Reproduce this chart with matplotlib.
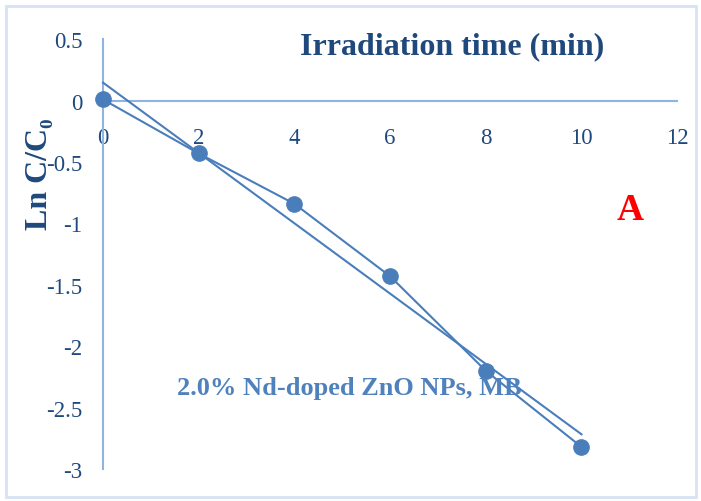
import numpy as np
import matplotlib.pyplot as plt
from matplotlib.patches import Rectangle

# irradiation time (min) and ln(C/C0)
time_min = [0, 2, 4, 6, 8, 10]
ln_ratio = [0.01, -0.43, -0.84, -1.43, -2.20, -2.82]

x_ticks = [0, 2, 4, 6, 8, 10, 12]
y_ticks = [-3, -2.5, -2, -1.5, -1, -0.5, 0, 0.5]
y_tick_labels = ['-3', '-2.5', '-2', '-1.5', '-1', '-0.5', '0', '0.5']

plt.rcParams['font.family'] = 'Liberation Serif'

blue = '#4A7EBB'
axis_blue = '#8EB4E3'
dark_blue = '#1F497D'

fig = plt.figure(figsize=(7.01, 5.02), dpi=100)
ax = fig.add_axes([0.147, 0.0637, 0.819, 0.856])

# chart border
fig.patches.append(Rectangle((0.008, 0.008), 0.985, 0.978, transform=fig.transFigure,
                             fill=False, edgecolor='#D6E3F5', linewidth=2))

# data with straight line segments
ax.plot(time_min, ln_ratio, color=blue, linewidth=1.5, marker='o', markersize=11,
        markerfacecolor=blue, markeredgecolor=blue, clip_on=False, zorder=3)

# linear trendline
coef = np.polyfit(time_min, ln_ratio, 1)
xs = np.array([min(time_min), max(time_min)])
ax.plot(xs, np.polyval(coef, xs), color=blue, linewidth=1.5, clip_on=False, zorder=3)

ax.set_xlim(0, 12)
ax.set_ylim(-3, 0.5)
ax.set_xticks(x_ticks)
ax.set_yticks(y_ticks)
ax.set_yticklabels(y_tick_labels)

for s in ['top', 'right']:
    ax.spines[s].set_visible(False)
ax.spines['bottom'].set_position(('data', 0))
ax.spines['left'].set_position(('data', 0))
for s in ['bottom', 'left']:
    ax.spines[s].set_color(axis_blue)
    ax.spines[s].set_linewidth(1.5)

ax.tick_params(axis='x', length=0, pad=19, labelsize=16.5, labelcolor=dark_blue)
ax.tick_params(axis='y', length=0, pad=15, labelsize=16.5, labelcolor=dark_blue)

fig.text(0.645, 0.906, 'Irradiation time (min)', fontsize=23, fontweight='bold',
         color=dark_blue, ha='center', va='center')
fig.text(0.056, 0.653, 'Ln C/C\u2080', fontsize=23, fontweight='bold', rotation=90,
         color=dark_blue, ha='center', va='center')
fig.text(0.899, 0.580, 'A', fontsize=27, fontweight='bold', color='red',
         ha='center', va='center')
fig.text(0.252, 0.227, '2.0% Nd-doped ZnO NPs, MB', fontsize=19, fontweight='bold',
         color='#4F81BD', ha='left', va='center')

fig.savefig('out.png', dpi=100)
